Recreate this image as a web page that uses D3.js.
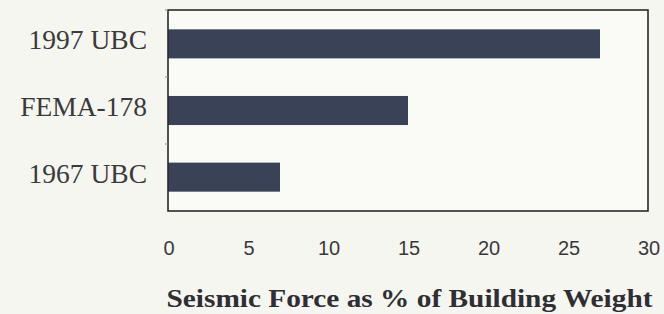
<!DOCTYPE html>
<html><head><meta charset="utf-8">
<script src="https://cdn.jsdelivr.net/npm/d3@7"></script>
<style>body{margin:0;background:#f6f6f1;}svg{display:block;}</style>
</head><body>
<script>
const categories = ["1997 UBC", "FEMA-178", "1967 UBC"];
const values = [27, 15, 7];
const xTicks = [0, 5, 10, 15, 20, 25, 30];
const xTitle = "Seismic Force as % of Building Weight";

const W = 664, H = 314;
const m = {left: 168, right: 16, top: 10, bottom: 103};
const svg = d3.select("body").append("svg").attr("width", W).attr("height", H);
svg.append("rect").attr("width", W).attr("height", H).attr("fill", "#f6f6f1");

const x = d3.scaleLinear().domain([0, 30]).range([m.left, W - m.right]);
const y = d3.scaleBand().domain(categories).range([m.top, H - m.bottom])
  .paddingInner(0.564).paddingOuter(0.29);

// plot area
svg.append("rect").attr("x", m.left).attr("y", m.top)
  .attr("width", x(30) - m.left).attr("height", H - m.bottom - m.top)
  .attr("fill", "#fafaf6");

svg.selectAll(".bar").data(values).join("rect")
  .attr("x", x(0)).attr("y", (d, i) => y(categories[i]))
  .attr("width", d => x(d) - x(0)).attr("height", y.bandwidth())
  .attr("fill", "#394257");

// frame
svg.append("rect").attr("x", m.left).attr("y", m.top)
  .attr("width", x(30) - m.left).attr("height", H - m.bottom - m.top)
  .attr("fill", "none").attr("stroke", "#2a2a2a").attr("stroke-width", 1.6);

// small left ticks at band boundaries
const ph = H - m.bottom - m.top;
const bounds = [m.top, m.top + ph / 3, m.top + 2 * ph / 3];
svg.selectAll(".lt").data(bounds).join("line")
  .attr("x1", m.left - 3).attr("x2", m.left).attr("y1", d => d).attr("y2", d => d)
  .attr("stroke", "#888").attr("stroke-width", 1);

// category labels
svg.selectAll(".cat").data(categories).join("text")
  .attr("x", 147).attr("y", d => y(d) + y.bandwidth() / 2 + 5.5)
  .attr("text-anchor", "end")
  .attr("font-family", "Liberation Serif, Times New Roman, serif")
  .attr("font-size", 27.5).attr("fill", "#3a3a3a")
  .text(d => d);

// x tick labels
svg.selectAll(".xt").data(xTicks).join("text")
  .attr("x", d => x(d) + 1).attr("y", 255)
  .attr("text-anchor", "middle")
  .attr("font-family", "Liberation Sans, Arial, sans-serif")
  .attr("font-size", 20).attr("fill", "#3a3a3a")
  .text(d => d);

// x title
svg.append("text").attr("x", 409.5).attr("y", 307)
  .attr("text-anchor", "middle")
  .attr("font-family", "Liberation Serif, Times New Roman, serif")
  .attr("font-weight", "bold").attr("font-size", 26).attr("fill", "#2e2e33")
  .attr("textLength", 486).attr("lengthAdjust", "spacingAndGlyphs")
  .text(xTitle);
</script>
</body></html>
